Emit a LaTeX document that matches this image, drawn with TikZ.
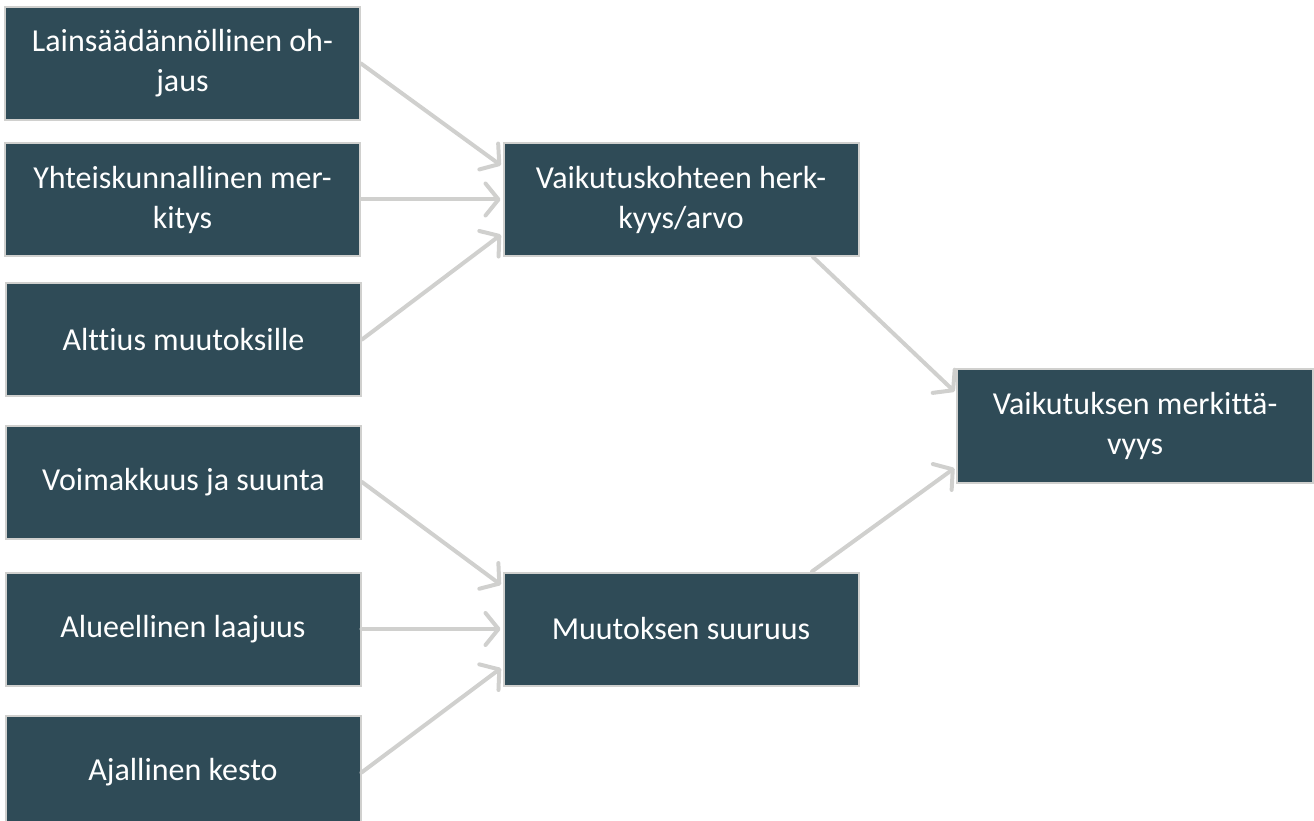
\documentclass[tikz,border=0pt]{standalone}
\usepackage{fontspec}
\setmainfont{Carlito}[Ligatures=NoCommon]
\usetikzlibrary{arrows.meta}
\definecolor{boxfill}{RGB}{47,75,87}
\definecolor{linegray}{RGB}{208,208,206}
\begin{document}
\begin{tikzpicture}[x=1pt,y=-1pt,
  box/.style={draw=linegray, line width=2pt, fill=boxfill, text=white,
    minimum width=355pt, minimum height=113pt, inner sep=0pt, align=center,
    font=\fontsize{32}{40}\selectfont},
  conn/.style={draw=linegray, line width=4pt, line cap=round,
    -{Straight Barb[length=13pt,width=32pt,round]}, shorten >=2pt}]
\useasboundingbox (0,0) rectangle (1314,821);
\node[box] (b1) at (182.5,63.5) {Lainsäädännöllinen oh-\\jaus};
\node[box] (b2) at (182.5,199.5) {Yhteiskunnallinen mer-\\kitys};
\node[box] (b3) at (183.5,339.5) {Alttius muutoksille};
\node[box] (b4) at (183.5,482) {Voimakkuus ja suunta};
\node[box] (b5) at (183,629) {Alueellinen laajuus};
\node[box] (b6) at (183,772.5) {Ajallinen kesto};
\node[box] (m1) at (681,199.5) {Vaikutuskohteen herk-\\kyys/arvo};
\node[box] (m2) at (681,629) {Muutoksen suuruus};
\node[box, minimum width=356pt, minimum height=114pt] (r) at (1135,426) {Vaikutuksen merkittä-\\vyys};
\draw[conn] (b1.east) -- ([yshift=33pt]m1.west);
\draw[conn] (b2.east) -- (m1.west);
\draw[conn] (b3.east) -- ([yshift=-34pt]m1.west);
\draw[conn] (b4.east) -- ([yshift=43pt]m2.west);
\draw[conn] (b5.east) -- (m2.west);
\draw[conn] (b6.east) -- ([yshift=-38pt]m2.west);
\draw[conn] ([xshift=132pt]m1.south) -- ([yshift=33pt]r.west);
\draw[conn] ([xshift=131pt]m2.north) -- ([yshift=-41pt]r.west);
\end{tikzpicture}
\end{document}
